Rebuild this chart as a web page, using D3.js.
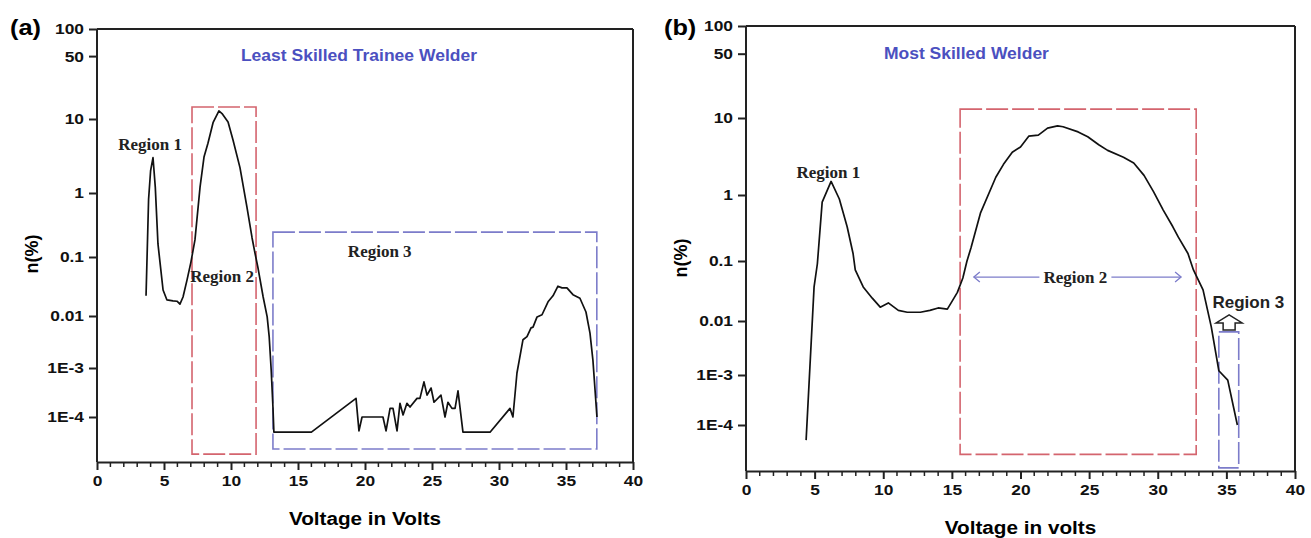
<!DOCTYPE html>
<html>
<head>
<meta charset="utf-8">
<script src="https://cdn.jsdelivr.net/npm/d3@7"></script>
<style>
body { margin: 0; background: #fff; }
svg { display: block; }
</style>
</head>
<body>
<svg></svg>
<script>
var width = 1311
var height = 538

// shared axis values
var voltTicks = [0, 5, 10, 15, 20, 25, 30, 35, 40]
var nTicks = [100, 50, 10, 1, 0.1, 0.01, 1e-3, 1e-4]
var nTickLabels = ["100", "50", "10", "1", "0.1", "0.01", "1E-3", "1E-4"]

// (a) least skilled trainee welder
var leftVolts = [3.66, 3.85, 4.0, 4.18, 4.35, 4.55, 4.7, 4.93, 5.22, 5.67, 5.97, 6.19, 6.42, 6.72, 7.01,
    7.31, 7.69, 7.99, 8.28, 8.66, 9.1, 9.33, 9.78, 10.15, 10.67, 11.19, 11.57, 11.79, 12.0, 12.4,
    12.7, 12.85, 13.0, 13.13, 13.2, 16.0, 19.33, 19.55, 19.78, 21.34, 21.57, 21.87, 22.09, 22.39,
    22.61, 22.84, 23.13, 23.36, 23.88, 24.1, 24.4, 24.63, 24.93, 25.15, 25.67, 25.97, 26.19, 26.49,
    26.72, 26.94, 27.31, 29.33, 30.82, 31.04, 31.34, 31.79, 32.09, 32.39, 32.54, 32.84, 33.21,
    33.66, 34.03, 34.4, 34.7, 35.07, 35.52, 36.04, 36.49, 36.79, 37.01, 37.31]
var leftN = [0.022, 0.8, 2.0, 3.0, 1.2, 0.16, 0.082, 0.0276, 0.0187, 0.018, 0.0178, 0.0159, 0.021, 0.041, 0.082,
    0.185, 1.2, 3.1, 4.7, 8.9, 12.3, 11.5, 9.1, 5.2, 2.2, 0.6, 0.2, 0.115, 0.068, 0.021,
    0.0096, 0.004, 9.1e-4, 1.6e-4, 4.6e-5, 4.6e-5, 2.4e-4, 4.9e-5, 1e-4, 1e-4, 4.9e-5, 1.5e-4, 1.5e-4, 4.9e-5,
    1.9e-4, 1.1e-4, 1.9e-4, 1.6e-4, 2.4e-4, 2.4e-4, 5.2e-4, 2.8e-4, 3.9e-4, 2.0e-4, 2.8e-4, 1e-4, 2.0e-4, 1.5e-4,
    1.5e-4, 3.4e-4, 4.6e-5, 4.6e-5, 1.5e-4, 1e-4, 7.9e-4, 3.5e-3, 4.0e-3, 5.9e-3, 6.1e-3, 9.6e-3, 0.0105,
    0.0174, 0.022, 0.032, 0.030, 0.030, 0.023, 0.020, 0.0117, 4.7e-3, 1.4e-3, 1e-4]

// (b) most skilled welder
var rightVolts = [4.38, 4.96, 5.2, 5.55, 6.2, 6.8, 7.37, 7.8, 7.96, 8.54, 9.2, 9.78, 10.37, 11.1, 11.75,
    12.7, 13.4, 14.0, 14.67, 15.0, 15.4, 15.8, 16.1, 16.4, 17.08, 18.2, 18.76, 19.4, 20.0, 20.6,
    21.3, 21.97, 22.7, 23.1, 24.2, 24.9, 25.7, 26.35, 27.5, 28.25, 29.0, 29.7, 30.4, 31.1, 31.5,
    32.2, 32.6, 33.3, 33.9, 34.45, 35.1, 35.8]
var rightN = [4.7e-5, 0.037, 0.09, 0.78, 1.5, 0.87, 0.33, 0.13, 0.071, 0.037, 0.024, 0.017, 0.02, 0.015, 0.014,
    0.014, 0.015, 0.0165, 0.0158, 0.021, 0.03, 0.052, 0.1, 0.16, 0.53, 1.7, 2.5, 3.6, 4.2, 5.8,
    6.0, 7.4, 7.9, 7.7, 6.6, 5.7, 4.5, 3.8, 3.1, 2.6, 1.8, 1.1, 0.59, 0.33, 0.23,
    0.13, 0.071, 0.033, 7.8e-3, 1.2e-3, 7.9e-4, 1.0e-4]

// region boxes in data units: [x0, x1, nLow, nHigh]
var leftRedBox = [7.09, 11.87, 1.5e-5, 13.6]
var leftBlueBox = [13.13, 37.3, 1.95e-5, 0.245]
var rightRedBox = [15.6, 32.8, 2.3e-5, 12.5]
var rightBlueBox = [34.45, 35.9, 1.17e-5, 6.3e-3]

var svg = d3.select("svg")
    .attr("width", width)
    .attr("height", height)

var red = "#d4646e"
var blue = "#7c7cca"
var titleBlue = "#4b50c0"
var sans = "Liberation Sans, Arial, sans-serif"
var serif = "Liberation Serif, Times New Roman, serif"

// the source figure is a bit wide, so sans text gets stretched sideways
function stretch(sel, k) {
    sel.each(function () {
        var t = d3.select(this)
        var x = +t.attr("x") || 0
        t.attr("x", x / k).attr("transform", `scale(${k},1)`)
    })
}

function drawPanel(p) {
    var x = d3.scaleLinear().domain([0, 40]).range([p.left, p.right])
    // log axis, decades get slightly shorter toward the bottom
    var y = d3.scaleLog()
        .domain([100, 10, 1, 0.1, 0.01, 1e-3, 1e-4, 1e-5])
        .range(p.yStops)

    var g = svg.append("g")

    // frame top / right
    g.append("line")
        .attr("x1", p.left).attr("x2", p.right)
        .attr("y1", p.top).attr("y2", p.top)
        .attr("stroke", "#222").attr("stroke-width", 2)
    g.append("line")
        .attr("x1", p.right).attr("x2", p.right)
        .attr("y1", p.top).attr("y2", p.bottom)
        .attr("stroke", "#222").attr("stroke-width", 2)

    // boxes
    p.boxes.forEach(function (b) {
        g.append("rect")
            .attr("x", x(b.box[0]))
            .attr("y", y(b.box[3]))
            .attr("width", x(b.box[1]) - x(b.box[0]))
            .attr("height", y(b.box[2]) - y(b.box[3]))
            .attr("fill", "none")
            .attr("stroke", b.color)
            .attr("stroke-width", 1.6)
            .attr("stroke-dasharray", "22,4")
    })

    // curve
    var pts = d3.zip(p.volts, p.n)
    g.append("path")
        .datum(pts)
        .attr("fill", "none")
        .attr("stroke", "#111")
        .attr("stroke-width", 1.7)
        .attr("stroke-linejoin", "round")
        .attr("d", d3.line().x(d => x(d[0])).y(d => y(d[1])))

    // x axis
    var xAxis = d3.axisBottom(x)
        .tickValues(voltTicks)
        .tickSize(8)
        .tickPadding(5)
        .tickSizeOuter(0)
    var gx = g.append("g")
        .attr("transform", `translate(0, ${p.bottom})`)
        .call(xAxis)
    gx.selectAll(".tick text")
        .attr("font-family", sans)
        .attr("font-weight", "bold")
        .attr("font-size", 15.5)
        .attr("fill", "#111")
        .call(stretch, 1.12)
    gx.select(".domain").attr("stroke-width", 2).attr("stroke", "#222")
    gx.selectAll(".tick line").attr("stroke-width", 2).attr("stroke", "#222")

    g.append("g")
        .attr("transform", `translate(0, ${p.bottom})`)
        .selectAll("line")
        .data(d3.range(0, 41).filter(v => v % 5 !== 0))
        .enter()
        .append("line")
        .attr("x1", d => x(d)).attr("x2", d => x(d))
        .attr("y1", 0).attr("y2", 5)
        .attr("stroke", "#222")
        .attr("stroke-width", 1.5)

    // y axis
    var yAxis = d3.axisLeft(y)
        .tickValues(nTicks)
        .tickFormat((d, i) => nTickLabels[i])
        .tickSize(8)
        .tickPadding(5)
        .tickSizeOuter(0)
    var gy = g.append("g")
        .attr("transform", `translate(${p.left}, 0)`)
        .call(yAxis)
    gy.select(".domain").attr("d", `M0,${p.top}V${p.bottom}`)
        .attr("stroke-width", 2).attr("stroke", "#222")
    gy.selectAll(".tick line").attr("stroke-width", 2).attr("stroke", "#222")
    gy.selectAll(".tick text")
        .attr("font-family", sans)
        .attr("font-weight", "bold")
        .attr("font-size", 15.5)
        .attr("fill", "#111")
        .call(stretch, 1.12)

    // panel letter
    g.append("text")
        .attr("x", p.letterX)
        .attr("y", 35)
        .attr("font-family", sans)
        .attr("font-weight", "bold")
        .attr("font-size", 22)
        .text(p.letter)
        .call(stretch, 1.15)

    // title
    g.append("text")
        .attr("x", x(p.titleAt[0]))
        .attr("y", y(p.titleAt[1]) + 5)
        .attr("font-family", sans)
        .attr("font-weight", "bold")
        .attr("font-size", 17)
        .attr("fill", titleBlue)
        .style("text-anchor", "middle")
        .text(p.title)
        .call(stretch, 1.03)

    // axis titles
    g.append("text")
        .attr("x", (p.left + p.right) / 2)
        .attr("y", p.xTitleY)
        .attr("font-family", sans)
        .attr("font-weight", "bold")
        .attr("font-size", 18.5)
        .style("text-anchor", "middle")
        .text(p.xTitle)
        .call(stretch, 1.12)

    g.append("text")
        .attr("transform", "rotate(-90)")
        .attr("x", -p.yTitleY)
        .attr("y", p.yTitleX)
        .attr("font-family", sans)
        .attr("font-weight", "bold")
        .attr("font-size", 18)
        .style("text-anchor", "middle")
        .text("n(%)")

    // region labels
    p.labels.forEach(function (l) {
        g.append("text")
            .attr("x", x(l.at[0]))
            .attr("y", y(l.at[1]))
            .attr("font-family", l.serif ? serif : sans)
            .attr("font-weight", "bold")
            .attr("font-size", 17)
            .attr("fill", "#222")
            .style("text-anchor", "middle")
            .text(l.text)
    })

    return { x: x, y: y, g: g }
}

var a = drawPanel({
    left: 97, right: 633, top: 29, bottom: 462,
    yStops: [29, 119, 193, 257, 316, 368, 417, 462],
    volts: leftVolts, n: leftN,
    boxes: [{ box: leftRedBox, color: red }, { box: leftBlueBox, color: blue }],
    letter: "(a)", letterX: 10,
    title: "Least Skilled Trainee Welder", titleAt: [19.55, 50],
    xTitle: "Voltage in Volts", xTitleY: 525,
    yTitleX: 38, yTitleY: 254,
    labels: [
        { text: "Region 1", at: [3.96, 3.8], serif: true },
        { text: "Region 2", at: [9.33, 0.038], serif: true },
        { text: "Region 3", at: [21.1, 0.1], serif: true }
    ]
})

var b = drawPanel({
    left: 746, right: 1295, top: 26, bottom: 471,
    yStops: [26, 118, 195, 261, 321, 375, 425, 471],
    volts: rightVolts, n: rightN,
    boxes: [{ box: rightRedBox, color: red }, { box: rightBlueBox, color: blue }],
    letter: "(b)", letterX: 664,
    title: "Most Skilled Welder", titleAt: [16.06, 50],
    xTitle: "Voltage in volts", xTitleY: 534,
    yTitleX: 687, yTitleY: 258,
    labels: [
        { text: "Region 1", at: [6.0, 1.66], serif: true },
        { text: "Region 3", at: [36.6, 0.0165], serif: false }
    ]
})

// region 2 span arrow in (b)
var spanY = b.y(0.054)
var spanL = b.x(16.6)
var spanR = b.x(31.7)
var midX = b.x(24.0)
var arrows = b.g.append("g")
    .attr("stroke", blue)
    .attr("stroke-width", 1.3)
    .attr("fill", "none")
arrows.append("line").attr("x1", spanL).attr("x2", midX - 36).attr("y1", spanY).attr("y2", spanY)
arrows.append("line").attr("x1", midX + 36).attr("x2", spanR).attr("y1", spanY).attr("y2", spanY)
arrows.append("path").attr("d", `M${spanL + 6},${spanY - 5}L${spanL},${spanY}L${spanL + 6},${spanY + 5}`)
arrows.append("path").attr("d", `M${spanR - 6},${spanY - 5}L${spanR},${spanY}L${spanR - 6},${spanY + 5}`)
b.g.append("text")
    .attr("x", midX)
    .attr("y", spanY + 6)
    .attr("font-family", serif)
    .attr("font-weight", "bold")
    .attr("font-size", 17)
    .attr("fill", "#222")
    .style("text-anchor", "middle")
    .text("Region 2")

// hollow up arrow under region 3 label in (b)
var ax = b.x(35.2)
var aTop = b.y(0.0126)
var aBot = b.y(6.8e-3)
b.g.append("path")
    .attr("d", `M${ax},${aTop}L${ax + 13},${aTop + 8}L${ax + 6},${aTop + 8}L${ax + 6},${aBot}` +
        `L${ax - 6},${aBot}L${ax - 6},${aTop + 8}L${ax - 13},${aTop + 8}Z`)
    .attr("fill", "#fff")
    .attr("stroke", "#222")
    .attr("stroke-width", 1.5)
</script>
</body>
</html>
